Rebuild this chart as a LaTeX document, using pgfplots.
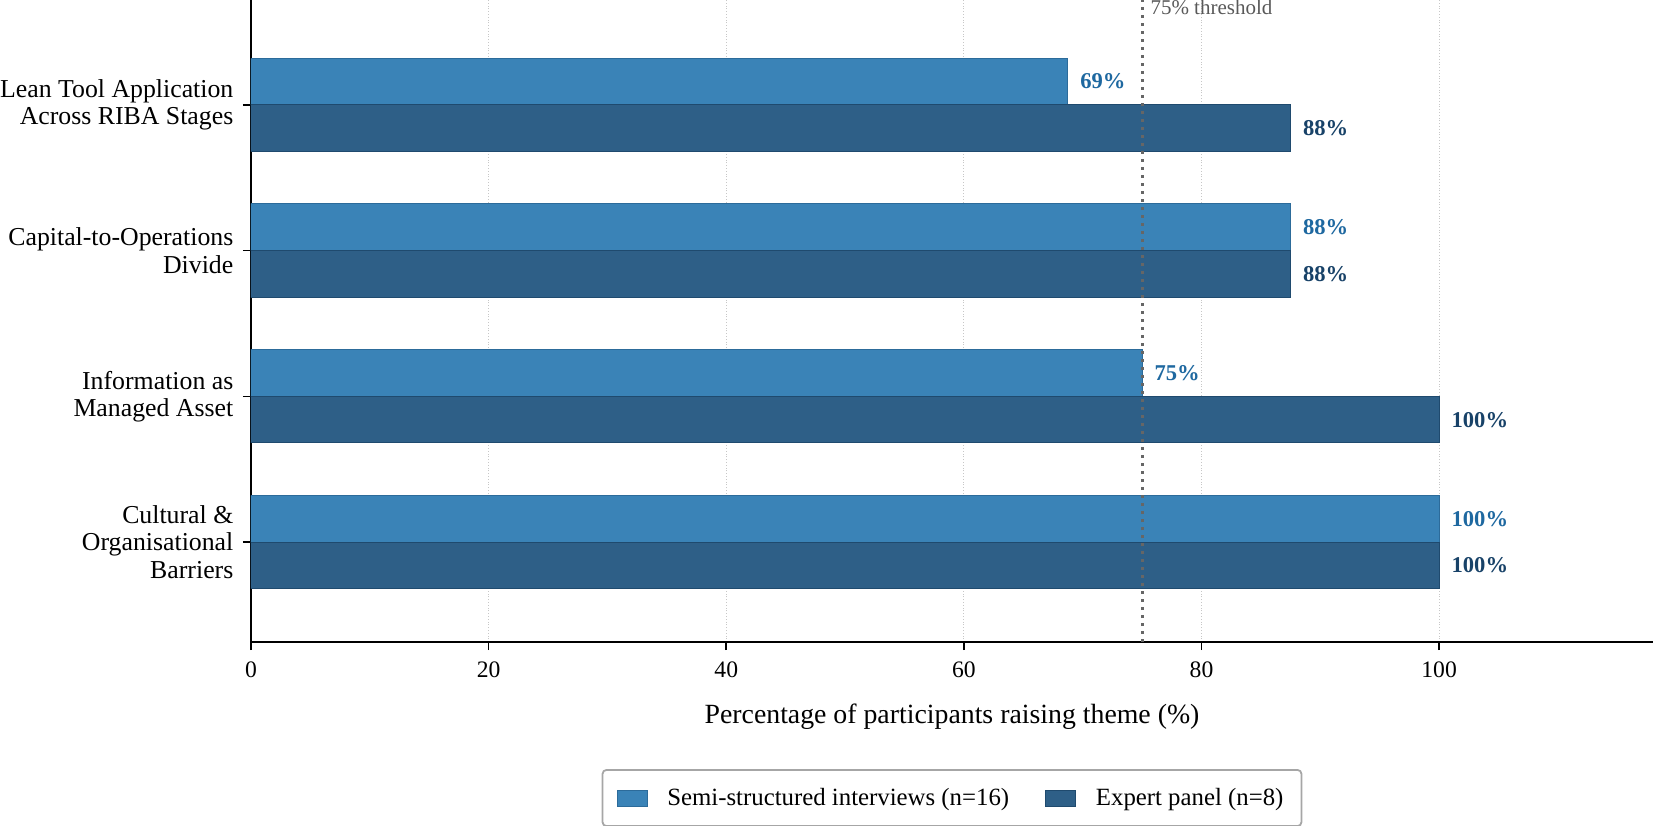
\documentclass[border=0pt]{standalone}
\usepackage{pgfplots}
\pgfplotsset{compat=1.18}
\usepackage{fontspec}
\setmainfont{Liberation Serif}
\definecolor{semi}{RGB}{58,131,183}
\definecolor{semiedge}{RGB}{44,107,154}
\definecolor{expert}{RGB}{46,95,135}
\definecolor{expertedge}{RGB}{31,74,110}
\definecolor{semilab}{RGB}{30,104,160}
\definecolor{explab}{RGB}{24,66,104}
\begin{document}
\begin{tikzpicture}
\begin{axis}[
  scale only axis,
  width=701pt, height=321pt,
  xmin=0, xmax=118,
  ymin=-0.686, ymax=3.72,
  axis lines*=left,
  axis line style={line width=1pt, black},
  tick align=outside,
  major tick length=4pt,
  tick style={black, line width=0.8pt},
  xtick={0,20,40,60,80,100},
  ytick={0,1,2,3},
  yticklabels={{Cultural \&\\Organisational\\Barriers},{Information as\\Managed Asset},{Capital-to-Operations\\Divide},{Lean Tool Application\\Across RIBA Stages}},
  yticklabel style={align=right, font=\fontsize{12.9}{13.6}\selectfont, xshift=-1.3pt},
  xticklabel style={font=\fontsize{11.8}{14}\selectfont, yshift=-2.5pt},
  /pgf/number format/assume math mode=true,
  xmajorgrids,
  grid style={densely dotted, black!22, line width=0.6pt},
  xlabel={Percentage of participants raising theme (\%)},
  xlabel style={font=\fontsize{13.9}{16}\selectfont, at={(axis description cs:0.5,0)}, anchor=base, yshift=-40.5pt},
  legend columns=2,
  legend style={at={(axis description cs:0.5,0)}, anchor=north, yshift=-63.5pt,
    draw=black!35, line width=0.9pt, rounded corners=2pt,
    font=\fontsize{12.4}{14}\selectfont, inner xsep=7pt, inner ysep=7pt,
    cells={inner xsep=0pt},
    /tikz/every odd column/.append style={column sep=8pt},
    /tikz/every even column/.append style={column sep=16pt}},
  legend image code/.code={\draw[#1, sharp corners, line width=0.4pt] (0pt,-4pt) rectangle (15pt,4pt);},
  legend cell align=left,
]
\addplot[xbar, bar width=0.32, bar shift=0.16, fill=semi, draw=semiedge, line width=0.5pt,
  point meta=explicit symbolic, nodes near coords,
  every node near coord/.style={anchor=west, xshift=6pt, yshift=11.66pt, inner sep=0pt, text=semilab, font=\fontsize{11.3}{13}\selectfont\bfseries}]
  coordinates {(68.75,3) [69\%] (87.5,2) [88\%] (75,1) [75\%] (100,0) [100\%]};
\addlegendentry{Semi-structured interviews (n=16)}
\addplot[xbar, bar width=0.32, bar shift=-0.16, fill=expert, draw=expertedge, line width=0.5pt,
  point meta=explicit symbolic, nodes near coords,
  every node near coord/.style={anchor=west, xshift=6pt, yshift=-11.66pt, inner sep=0pt, text=explab, font=\fontsize{11.3}{13}\selectfont\bfseries}]
  coordinates {(87.5,3) [88\%] (87.5,2) [88\%] (100,1) [100\%] (100,0) [100\%]};
\addlegendentry{Expert panel (n=8)}
\addplot[forget plot, black!60, line width=1.5pt, dash pattern=on 1.5pt off 2.5pt] coordinates {(75,-0.686) (75,3.72)};
\node[anchor=north west, inner sep=0pt, xshift=4pt, text=black!65, font=\fontsize{10.5}{12}\selectfont] at (axis cs:75,3.72) {75\% threshold};
\coordinate (bl) at (rel axis cs:0,0);
\coordinate (tr) at (rel axis cs:1,1);
\end{axis}
\pgfresetboundingbox
\path ([shift={(-125.5pt,-91.5pt)}]bl) rectangle ([shift={(0.5pt,0pt)}]tr);
\end{tikzpicture}
\end{document}
